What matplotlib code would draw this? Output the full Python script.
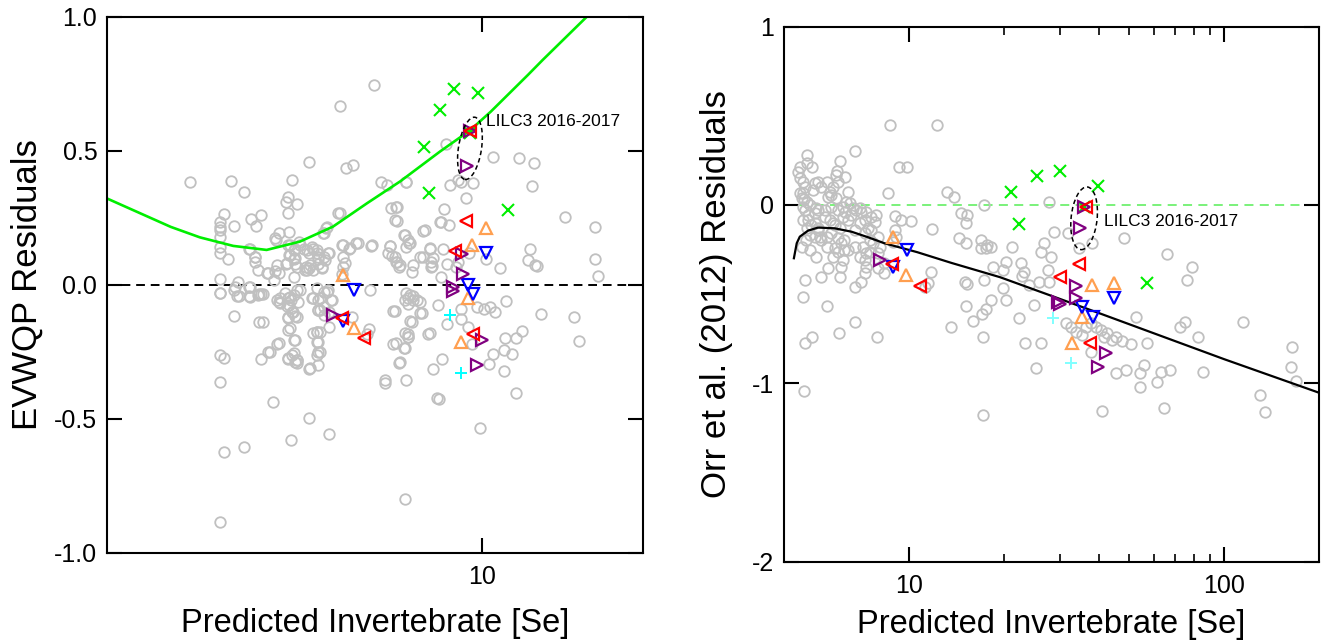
import matplotlib
matplotlib.use("Agg")
import matplotlib.pyplot as plt
from matplotlib.patches import Ellipse
from matplotlib.transforms import ScaledTranslation
from matplotlib.ticker import FixedLocator, NullLocator, FixedFormatter

plt.rcParams['font.family'] = ['Liberation Sans', 'DejaVu Sans']

# ---------------- Left panel: EVWQP residuals ----------------
evwqp_gray_x = [6.31, 5.45, 4.76, 5.59, 5.75, 2.86, 3.41, 3.61, 4.43, 4.36, 4.32, 4.53, 3.30, 3.45,
                3.25, 3.25, 3.25, 3.25, 3.25, 3.25, 3.72, 3.87, 3.80, 4.36, 3.36, 3.68, 3.77, 3.77,
                3.97, 4.11, 4.10, 4.14, 4.19, 4.38, 4.12, 4.36, 4.39, 4.48, 4.56, 4.32, 4.46, 4.48,
                4.52, 4.46, 4.67, 4.77, 4.85, 4.92, 4.69, 4.77, 4.96, 4.96, 5.04, 5.16, 5.06, 5.12,
                5.40, 5.07, 4.70, 5.48, 5.52, 5.65, 5.84, 5.52, 5.48, 6.21, 6.74, 6.88, 6.92, 7.00,
                6.69, 6.77, 6.92, 6.88, 7.22, 7.17, 7.28, 7.22, 7.33, 7.77, 7.68, 8.04, 8.01, 8.41,
                8.51, 8.68, 8.74, 9.02, 9.34, 9.63, 8.58, 9.16, 10.5, 11.75, 12.5, 12.4, 14.3, 16.3,
                12.3, 12.2, 12.7, 12.6, 16.3, 16.5, 10.8, 10.2, 9.48, 8.04, 8.61, 8.95, 9.02, 8.48,
                8.41, 3.25, 3.25, 3.46, 3.51, 3.68,
                3.25, 3.45, 3.49, 3.68, 3.85, 3.87, 3.45, 3.84, 3.91, 4.16, 4.19, 4.36, 4.46, 4.52,
                4.34, 4.42, 4.49, 4.36, 4.36, 4.46, 4.15, 4.00, 3.88, 4.36, 4.42, 4.49, 4.52, 4.76,
                4.96, 4.94, 4.96, 4.94, 4.85, 4.94, 4.85, 4.96, 5.07, 5.16, 5.23, 5.00, 4.96, 5.19,
                5.07, 6.19, 6.17, 6.12, 5.72, 6.84, 6.88, 7.68, 7.36, 7.20, 7.28, 7.35, 7.44, 7.56,
                7.68, 7.28, 7.28, 7.17, 6.84, 7.00, 6.59, 7.22, 7.94, 8.29, 8.61, 8.44, 8.10, 8.33,
                7.20, 9.16, 9.16, 9.44, 9.58, 9.81, 10.1, 10.35, 10.6, 11.1, 12.9, 14.9, 15.2, 11.05,
                11.6, 11.9, 11.0, 11.4, 10.5, 10.3, 11.0, 11.6, 9.91, 3.25, 3.30, 3.25, 4.08, 4.76,
                4.41, 5.19, 3.61, 3.30, 3.25]
evwqp_gray_y = [0.745, 0.666, 0.457, 0.436, 0.446, 0.382, 0.386, 0.345, 0.390, 0.328, 0.309, 0.300, 0.264, 0.219,
                0.234, 0.215, 0.203, 0.178, 0.141, 0.116, 0.244, 0.259, 0.218, 0.265, 0.097, 0.134, 0.103, 0.085,
                0.044, 0.051, 0.016, 0.166, 0.194, 0.197, 0.172, 0.147, 0.110, 0.134, 0.159, 0.078, 0.097, 0.078,
                0.066, 0.029, 0.134, 0.116, 0.134, 0.116, 0.054, 0.060, 0.078, 0.097, 0.066, 0.116, 0.191, 0.212,
                0.265, 0.103, 0.066, 0.147, 0.103, 0.134, 0.153, 0.066, 0.041, 0.144, 0.144, 0.103, 0.085, 0.066,
                0.116, 0.284, 0.288, 0.241, 0.384, 0.184, 0.166, 0.141, 0.153, 0.200, 0.103, 0.085, 0.131, 0.234,
                0.281, 0.222, 0.371, 0.390, 0.324, 0.380, 0.523, 0.384, 0.477, 0.473, 0.455, 0.369, 0.253, 0.213,
                0.134, 0.093, 0.070, 0.072, 0.097, 0.031, 0.060, 0.097, 0.116, 0.066, 0.078, 0.066, 0.085, 0.134,
                0.029, 0.022, -0.033, -0.009, 0.010, -0.008,
                -0.030, -0.019, -0.044, -0.044, -0.034, -0.036, -0.117, -0.141, -0.141, -0.059, -0.065, -0.052, -0.040, -0.021,
                -0.081, -0.102, -0.118, -0.123, -0.168, -0.208, -0.221, -0.252, -0.279, -0.277, -0.264, -0.289, -0.283, -0.314,
                -0.302, -0.264, -0.252, -0.214, -0.181, -0.177, -0.052, -0.059, -0.027, -0.021, -0.059, -0.096, -0.096, -0.158,
                -0.115, -0.021, -0.165, -0.183, -0.123, -0.099, -0.099, -0.108, -0.137, -0.059, -0.071, -0.040, -0.044, -0.059,
                -0.065, -0.183, -0.196, -0.236, -0.221, -0.292, -0.358, -0.358, -0.183, -0.077, -0.146, -0.277, -0.317, -0.428,
                -0.799, -0.090, -0.127, -0.158, -0.221, -0.084, -0.090, -0.084, -0.102, -0.062, -0.111, -0.123, -0.211, -0.198,
                -0.198, -0.173, -0.246, -0.261, -0.261, -0.296, -0.323, -0.404, -0.536, -0.364, -0.273, -0.264, -0.439, -0.499,
                -0.582, -0.557, -0.607, -0.626, -0.888]

# additional points of the dense central cluster
evwqp_cluster_x = [3.70, 3.78, 3.83, 4.00, 4.18, 4.15, 4.33, 4.38, 4.48, 4.58, 4.39, 4.46,
                   4.72, 4.82, 4.92, 4.96, 5.10, 4.79, 4.72, 4.85, 5.04, 5.18, 5.14, 5.45, 5.08, 5.52,
                   5.68, 5.89, 6.24, 5.56, 6.50, 6.65, 7.24,
                   6.96, 6.95, 6.75, 6.80, 6.95, 7.05, 7.20, 7.35, 7.41, 7.46, 7.78, 8.02, 8.13, 8.07, 7.83, 8.36,
                   3.52, 3.70, 3.83, 3.91, 3.70,
                   4.21, 4.21, 4.39, 4.37, 4.44, 4.52, 4.36, 4.41, 4.55, 4.58, 4.30,
                   4.82, 4.99, 4.96, 5.07, 5.18, 5.25, 5.14, 4.92,
                   4.99, 4.92, 4.96, 4.99, 4.79,
                   4.39, 4.48, 4.36, 4.52, 4.53, 4.46, 4.18, 4.03,
                   7.41, 7.73, 7.30, 7.46, 7.24, 7.20, 7.30, 6.92, 7.20, 7.05, 6.61, 8.02, 8.26]
evwqp_cluster_y = [0.131, 0.104, 0.054, 0.044, 0.044, 0.073, 0.079, 0.110, 0.098, 0.147, 0.147, 0.129,
                   0.129, 0.141, 0.129, 0.104, 0.091, 0.073, 0.054, 0.054, 0.060, 0.116, 0.216, 0.268, 0.191, 0.147,
                   0.135, 0.154, 0.147, 0.079, 0.384, 0.371, 0.384,
                   0.288, 0.238, 0.144, 0.106, 0.085, 0.073, 0.185, 0.154, 0.048, 0.073, 0.104, 0.135, 0.098, 0.069, 0.203, 0.234,
                   -0.043, -0.046, -0.039, -0.035, -0.010,
                   -0.052, -0.068, -0.046, -0.076, -0.101, -0.120, -0.126, -0.058, -0.064, -0.021, -0.033,
                   -0.052, -0.052, -0.095, -0.083, -0.101, -0.058, -0.027, -0.014,
                   -0.176, -0.176, -0.213, -0.251, -0.313,
                   -0.163, -0.207, -0.275, -0.282, -0.292, -0.257, -0.219, -0.251,
                   -0.139, -0.107, -0.052, -0.058, -0.033, -0.182, -0.195, -0.219, -0.238, -0.288, -0.366, -0.182, -0.425]

evwqp_green_x = [8.88, 9.84, 8.35, 7.80, 7.98, 11.2, 9.51]
evwqp_green_y = [0.729, 0.714, 0.651, 0.514, 0.342, 0.278, 0.565]
evwqp_orange_x = [10.2, 9.58, 5.52, 9.44, 5.78, 9.16]
evwqp_orange_y = [0.209, 0.149, 0.035, -0.052, -0.164, -0.214]
evwqp_blue_x = [10.2, 9.44, 9.63, 5.78, 5.51]
evwqp_blue_y = [0.116, 0.000, -0.034, -0.021, -0.136]
evwqp_purple_x = [9.51, 9.37, 9.20, 9.22, 8.85, 8.85, 5.29, 10.0, 9.81]
evwqp_purple_y = [0.574, 0.443, 0.112, 0.039, -0.010, -0.025, -0.114, -0.206, -0.299]
evwqp_red_x = [9.51, 9.34, 8.92, 5.50, 6.02, 9.63]
evwqp_red_y = [0.572, 0.237, 0.126, -0.124, -0.201, -0.186]
evwqp_cyan_x = [8.74, 9.16]
evwqp_cyan_y = [-0.112, -0.329]

evwqp_curve_x = [2.0, 2.63, 2.98, 3.44, 3.97, 4.58, 5.28, 6.11, 7.05, 8.36, 9.51, 10.4, 12.2, 13.0, 15.8]
evwqp_curve_y = [0.321, 0.215, 0.176, 0.144, 0.129, 0.160, 0.216, 0.303, 0.385, 0.496, 0.575, 0.645, 0.782, 0.838, 1.004]

# ---------------- Right panel: Orr et al. (2012) residuals ----------------
orr_gray_x = [6.74, 4.43, 4.74, 4.91, 6.01, 5.91, 5.87, 6.27, 5.94, 9.24, 9.85,
              4.66, 4.60, 4.63, 5.01, 5.13, 4.94, 5.58, 5.66, 5.52, 5.87,
              6.31, 6.47, 6.16, 6.62, 6.79, 6.95, 6.23, 5.94, 5.66, 5.38, 5.13, 5.01,
              4.66, 4.77, 4.60, 4.89, 5.13, 4.83, 4.71, 5.01,
              5.58, 5.79, 6.01, 5.66, 5.94, 6.22, 6.08, 5.79, 5.94, 6.22,
              6.55, 7.04, 7.30, 7.57, 7.85, 7.76, 7.40, 7.21, 7.48, 7.66, 7.13, 7.30,
              8.55, 8.98, 9.42, 10.1, 8.98, 9.09, 8.87, 8.05, 7.94, 7.48,
              11.8, 13.2, 13.9, 17.3,
              14.6, 15.3, 15.1, 14.4, 15.1, 16.9, 16.9, 17.5, 17.7, 18.2, 18.4, 17.3, 15.2, 15.0,
              11.7, 11.5, 11.2,
              8.34, 7.94, 8.34, 7.30, 7.21, 7.04, 6.70, 6.01, 6.08, 5.52, 5.25, 4.66, 4.60,
              5.46, 6.70, 5.98, 4.91, 4.66, 7.91, 4.62, 13.6, 15.1, 15.9, 17.0, 17.5, 18.2, 17.2, 17.1,
              8.71, 12.2,
              27.7, 28.8, 31.8, 26.8, 26.2, 28.1, 22.6, 20.3, 21.2, 23.2, 22.8,
              27.5, 27.7, 25.8, 24.0, 19.8, 19.8, 20.3, 24.9, 22.3,
              34.6, 38.1, 48.0, 65.9, 79.1, 76.2, 52.3, 115, 75.3, 72.6, 82.6, 56.9,
              50.4, 47.4, 45.2, 42.5, 40.5, 39.1, 37.7, 36.3,
              41.5, 44.1, 37.7, 35.4, 31.4, 32.6, 33.8, 26.2, 23.3, 25.2,
              45.2, 48.6, 54.2, 54.2, 55.6, 61.2, 63.1, 67.5, 85.5, 64.3, 41.0,
              130, 135, 164, 163, 169]
orr_gray_y = [0.305, 0.187, 0.237, 0.215, 0.248, 0.192, 0.168, 0.159, 0.131, 0.215, 0.211,
              0.103, 0.069, 0.032, 0.122, 0.131, 0.084, 0.075, 0.056, 0.043, 0.038,
              0.019, 0.010, -0.010, -0.019, -0.028, -0.019, -0.038, -0.028, -0.010, -0.028, -0.028, -0.047,
              -0.028, -0.056, -0.084, -0.112, -0.140, -0.168, -0.196, -0.178,
              -0.084, -0.112, -0.131, -0.159, -0.187, -0.196, -0.215, -0.243, -0.262, -0.252,
              -0.056, -0.038, -0.038, -0.066, -0.056, -0.094, -0.131, -0.159, -0.196, -0.215, -0.234, -0.271,
              0.066, -0.062, -0.084, -0.088, -0.140, -0.178, -0.206, -0.234, -0.271, -0.262,
              -0.135, 0.075, 0.047, 0.000,
              -0.047, -0.056, -0.103, -0.187, -0.215, -0.196, -0.243, -0.243, -0.224, -0.234, -0.346, -0.421, -0.443, -0.430,
              -0.374, -0.439, -0.458,
              -0.327, -0.355, -0.383, -0.346, -0.383, -0.430, -0.458, -0.402, -0.346, -0.355, -0.402, -0.421, -0.514,
              -0.566, -0.654, -0.716, -0.739, -0.776, -0.742, -1.041, -0.682, -0.566, -0.651, -0.611, -0.585, -0.533, -0.739, -1.178,
              0.450, 0.450,
              0.015, -0.150, -0.159, -0.211, -0.262, -0.293, -0.324, -0.318, -0.237, -0.374, -0.398,
              -0.365, -0.430, -0.430, -0.449, -0.365, -0.467, -0.533, -0.561, -0.636,
              -0.243, -0.215, -0.187, -0.275, -0.346, -0.421, -0.626, -0.654, -0.654, -0.683, -0.742, -0.772,
              -0.780, -0.761, -0.739, -0.720, -0.701, -0.683, -0.664, -0.683,
              -0.739, -0.757, -0.823, -0.729, -0.664, -0.683, -0.711, -0.772, -0.776, -0.916,
              -0.944, -0.925, -0.944, -1.019, -0.897, -0.991, -0.935, -0.925, -0.935, -1.140, -1.154,
              -1.066, -1.159, -0.795, -0.910, -0.985]

# additional points of the dense low-[Se] cluster
orr_cluster_x = [4.49, 4.55, 4.72, 4.83, 5.07, 4.60, 4.77, 5.01, 5.13, 4.72, 5.20, 5.26, 5.46, 5.39,
                 5.73, 6.16, 6.38, 6.70, 6.95, 7.21, 7.57, 7.94, 5.46, 5.73, 6.16, 6.38, 6.70, 6.95,
                 7.21, 4.83, 5.07, 4.55, 4.49, 4.60, 5.26, 5.46, 5.73, 6.38, 4.72, 4.49]
orr_cluster_y = [0.066, 0.038, 0.019, 0.000, -0.019, -0.009, -0.084, -0.103, -0.131, -0.131, -0.178, -0.196, -0.178, -0.066,
                 -0.103, -0.066, -0.084, -0.140, -0.103, -0.084, -0.140, -0.178, -0.234, -0.290, -0.308, -0.252, -0.234, -0.290,
                 -0.308, -0.252, -0.290, -0.234, 0.150, 0.130, 0.100, 0.130, 0.100, 0.070, 0.280, 0.210]

orr_green_x = [21.0, 25.5, 30.1, 39.8, 22.3, 56.9, 35.9]
orr_green_y = [0.075, 0.163, 0.192, 0.107, -0.107, -0.436, -0.010]
orr_orange_x = [8.87, 9.78, 38.1, 44.7, 35.4, 32.8]
orr_orange_y = [-0.181, -0.393, -0.449, -0.436, -0.626, -0.772]
orr_blue_x = [9.85, 8.87, 44.7, 35.4, 38.3]
orr_blue_y = [-0.252, -0.349, -0.524, -0.574, -0.626]
orr_purple_x = [8.05, 35.9, 34.8, 33.9, 33.9, 29.7, 30.1, 42.0, 39.7]
orr_purple_y = [-0.308, -0.010, -0.131, -0.454, -0.524, -0.542, -0.555, -0.828, -0.910]
orr_red_x = [8.81, 10.8, 36.5, 34.6, 30.1, 37.4]
orr_red_y = [-0.331, -0.454, -0.013, -0.333, -0.406, -0.776]
orr_cyan_x = [28.6, 32.5]
orr_cyan_y = [-0.632, -0.884]

orr_line_x = [4.30, 4.39, 4.49, 4.77, 5.13, 5.79, 6.55, 7.39, 8.34, 10.6, 13.6, 19.4, 40.1, 100, 200]
orr_line_y = [-0.299, -0.215, -0.178, -0.144, -0.127, -0.131, -0.150, -0.181, -0.215, -0.265, -0.325,
              -0.405, -0.607, -0.865, -1.053]

label_text = "LILC3 2016-2017"

# ---------------- Figure ----------------
fig = plt.figure(figsize=(13.28, 6.41), dpi=100)
axL = fig.add_axes([107 / 1328, 1 - 552.5 / 641, 536 / 1328, 536 / 641])
axR = fig.add_axes([784 / 1328, 1 - 561.6 / 641, 535 / 1328, 535 / 641])

GRAY = '#c0c0c0'
ORANGE = '#ff9f50'
BLUE = '#0000ff'
PURPLE = '#800080'
RED = '#ff0000'
GREEN = '#00ee00'


def draw_points(ax, gx, gy, green, orange, blue, purple, red, cyan, cyan_col):
    ax.plot(gx, gy, 'o', ms=7.6, mfc='none', mec=GRAY, mew=1.3, zorder=2)
    ax.plot(*green, 'x', ms=8.5, color=GREEN, mew=1.5, zorder=3)
    ax.plot(*orange, '^', ms=8.5, mfc='none', mec=ORANGE, mew=1.6, zorder=3)
    ax.plot(*blue, 'v', ms=8.5, mfc='none', mec=BLUE, mew=1.6, zorder=3)
    ax.plot(*purple, '>', ms=8.5, mfc='none', mec=PURPLE, mew=1.6, zorder=3)
    ax.plot(*red, '<', ms=8.5, mfc='none', mec=RED, mew=1.6, zorder=4)
    ax.plot(*cyan, '+', ms=9, color=cyan_col, mew=1.4, zorder=3)


# Left panel
axL.set_xscale('log')
axL.set_xlim(2, 20)
axL.set_ylim(-1.0, 1.0)
axL.axhline(0, color='black', ls=(0, (4.5, 3)), lw=1.4, zorder=1)
axL.plot(evwqp_curve_x, evwqp_curve_y, color=GREEN, lw=1.9, zorder=2.5)
draw_points(axL, evwqp_gray_x + evwqp_cluster_x, evwqp_gray_y + evwqp_cluster_y,
            (evwqp_green_x, evwqp_green_y), (evwqp_orange_x, evwqp_orange_y),
            (evwqp_blue_x, evwqp_blue_y), (evwqp_purple_x, evwqp_purple_y),
            (evwqp_red_x, evwqp_red_y), (evwqp_cyan_x, evwqp_cyan_y), '#00ffff')
axL.xaxis.set_major_locator(FixedLocator([10]))
axL.xaxis.set_major_formatter(FixedFormatter(['10']))
axL.xaxis.set_minor_locator(NullLocator())
axL.set_yticks([-1.0, -0.5, 0.0, 0.5, 1.0])
axL.set_yticklabels(['-1.0', '-0.5', '0.0', '0.5', '1.0'])
axL.set_xlabel('Predicted Invertebrate [Se]', fontsize=23.5)
axL.set_ylabel('EVWQP Residuals', fontsize=25)
axL.xaxis.set_label_coords(0.5, -0.103)
axL.yaxis.set_label_coords(-0.118, 0.5)

tL = fig.dpi_scale_trans + ScaledTranslation(9.51, 0.508, axL.transData)
axL.add_patch(Ellipse((0, 0), 0.23, 0.63, angle=-9, transform=tL, fill=False,
                      ec='black', ls=(0, (3, 2)), lw=1.1, zorder=5))
axL.text(10.19, 0.607, label_text, fontsize=12.5, ha='left', va='center', zorder=6)

# Right panel
axR.set_xscale('log')
axR.set_xlim(4, 200)
axR.set_ylim(-2, 1)
axR.axhline(0, color='#70f070', ls=(0, (5, 3.5)), lw=1.3, zorder=1)
axR.plot(orr_line_x, orr_line_y, color='black', lw=1.6, zorder=2.5)
draw_points(axR, orr_gray_x + orr_cluster_x, orr_gray_y + orr_cluster_y,
            (orr_green_x, orr_green_y), (orr_orange_x, orr_orange_y),
            (orr_blue_x, orr_blue_y), (orr_purple_x, orr_purple_y),
            (orr_red_x, orr_red_y), (orr_cyan_x, orr_cyan_y), '#80ffff')
axR.xaxis.set_major_locator(FixedLocator([10, 100]))
axR.xaxis.set_major_formatter(FixedFormatter(['10', '100']))
axR.xaxis.set_minor_locator(FixedLocator([20, 30, 40, 50, 60, 70, 80, 90]))
axR.xaxis.set_minor_formatter(FixedFormatter([''] * 8))
axR.set_yticks([-2, -1, 0, 1])
axR.set_yticklabels(['-2', '-1', '0', '1'])
axR.set_xlabel('Predicted Invertebrate [Se]', fontsize=23.5)
axR.set_ylabel('Orr et al. (2012) Residuals', fontsize=25)
axR.xaxis.set_label_coords(0.5, -0.088)
axR.yaxis.set_label_coords(-0.095, 0.5)

tR = fig.dpi_scale_trans + ScaledTranslation(35.9, -0.075, axR.transData)
axR.add_patch(Ellipse((0, 0), 0.26, 0.63, angle=-6, transform=tR, fill=False,
                      ec='black', ls=(0, (3, 2)), lw=1.1, zorder=5))
axR.text(41.5, -0.094, label_text, fontsize=12.5, ha='left', va='center', zorder=6)

for ax in (axL, axR):
    for s in ax.spines.values():
        s.set_linewidth(1.5)
    ax.tick_params(which='major', direction='in', length=11, width=1.5,
                   top=True, right=True, labelsize=18, pad=7)
    ax.tick_params(which='minor', direction='in', length=6, width=1.2,
                   top=True, right=False, left=False)
    ax.tick_params(axis='x', which='major', pad=9)

fig.savefig('out.png', dpi=100)
